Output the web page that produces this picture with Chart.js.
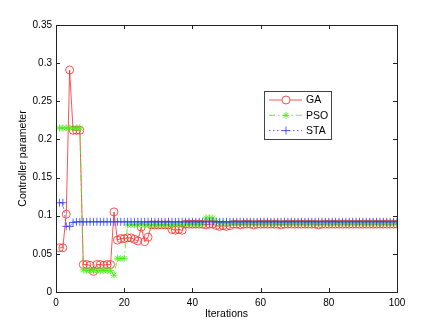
<!DOCTYPE html>
<html>
<head>
<meta charset="utf-8">
<script src="https://cdn.jsdelivr.net/npm/chart.js@4"></script>
<style>
  body { margin: 0; background: #fff; }
</style>
</head>
<body>
<canvas id="mycanvas" width="436" height="327"></canvas>
<script>
// values, iterations 1..100
var GA = [
  0.058, 0.058, 0.102, 0.291, 0.212, 0.212, 0.212, 0.036, 0.036, 0.035,
  0.027, 0.036, 0.036, 0.035, 0.036, 0.036, 0.105, 0.068, 0.070, 0.070,
  0.071, 0.071, 0.069, 0.067, 0.085, 0.066, 0.072, 0.088, 0.088, 0.088,
  0.088, 0.088, 0.088, 0.082, 0.081, 0.082, 0.081, 0.089, 0.089, 0.089,
  0.089, 0.089, 0.089, 0.088, 0.089, 0.089, 0.087, 0.086, 0.087, 0.086,
  0.087, 0.089, 0.089, 0.088, 0.089, 0.089, 0.089, 0.088, 0.089, 0.089,
  0.089, 0.089, 0.089, 0.089, 0.089, 0.088, 0.089, 0.089, 0.089, 0.089,
  0.089, 0.089, 0.089, 0.089, 0.089, 0.089, 0.088, 0.089, 0.089, 0.089,
  0.089, 0.089, 0.089, 0.089, 0.089, 0.089, 0.089, 0.089, 0.089, 0.089,
  0.089, 0.089, 0.089, 0.089, 0.089, 0.089, 0.089, 0.089, 0.089, 0.089
];
var PSO = [
  0.215, 0.215, 0.215, 0.215, 0.215, 0.215, 0.215, 0.029, 0.028, 0.028,
  0.028, 0.028, 0.028, 0.028, 0.028, 0.028, 0.022, 0.044, 0.044, 0.044,
  0.088, 0.088, 0.088, 0.088, 0.088, 0.088, 0.088, 0.088, 0.088, 0.088,
  0.088, 0.088, 0.088, 0.088, 0.089, 0.089, 0.089, 0.089, 0.089, 0.089,
  0.089, 0.089, 0.089, 0.097, 0.097, 0.097, 0.092, 0.090, 0.090, 0.090,
  0.090, 0.090, 0.090, 0.090, 0.090, 0.090, 0.090, 0.090, 0.090, 0.090,
  0.090, 0.090, 0.090, 0.090, 0.090, 0.090, 0.090, 0.090, 0.090, 0.090,
  0.090, 0.090, 0.090, 0.090, 0.090, 0.090, 0.090, 0.090, 0.090, 0.090,
  0.090, 0.090, 0.090, 0.090, 0.090, 0.090, 0.090, 0.090, 0.090, 0.090,
  0.090, 0.090, 0.090, 0.090, 0.090, 0.090, 0.090, 0.090, 0.090, 0.090
];
var STA = [
  0.117, 0.117, 0.086, 0.086, 0.091, 0.092, 0.092, 0.092, 0.092, 0.092,
  0.092, 0.092, 0.092, 0.092, 0.092, 0.092, 0.092, 0.092, 0.092, 0.092,
  0.092, 0.092, 0.092, 0.092, 0.092, 0.092, 0.092, 0.092, 0.092, 0.092,
  0.092, 0.092, 0.092, 0.092, 0.092, 0.092, 0.092, 0.092, 0.092, 0.092,
  0.092, 0.092, 0.092, 0.092, 0.092, 0.092, 0.092, 0.092, 0.092, 0.092,
  0.092, 0.092, 0.092, 0.092, 0.092, 0.092, 0.092, 0.092, 0.092, 0.092,
  0.092, 0.092, 0.092, 0.092, 0.092, 0.092, 0.092, 0.092, 0.092, 0.092,
  0.092, 0.092, 0.092, 0.092, 0.092, 0.092, 0.092, 0.092, 0.092, 0.092,
  0.092, 0.092, 0.092, 0.092, 0.092, 0.092, 0.092, 0.092, 0.092, 0.092,
  0.092, 0.092, 0.092, 0.092, 0.092, 0.092, 0.092, 0.092, 0.092, 0.092
];
var xTicks = [0, 20, 40, 60, 80, 100];
var yTicks = [0, 0.05, 0.1, 0.15, 0.2, 0.25, 0.3, 0.35];

function toPoints(values) {
  var pts = [];
  for (var i in values) {
    pts.push({x: Number(i) + 1, y: values[i]});
  }
  return pts;
}

var series = [
  {label: 'GA', data: GA, color: 'rgb(255,40,40)', style: 'circle', radius: 4, dash: [], order: 3},
  {label: 'PSO', data: PSO, color: 'rgb(70,235,20)', style: 'star', radius: 3.5, dash: [6, 3, 1.5, 3], order: 2},
  {label: 'STA', data: STA, color: 'rgb(40,60,255)', style: 'cross', radius: 4, dash: [1.5, 2.5], order: 1}
];

var datasets = series.map(function(s) {
  return {
    label: s.label,
    data: toPoints(s.data),
    borderColor: s.color,
    backgroundColor: 'rgba(0,0,0,0)',
    borderWidth: 0.8,
    borderDash: s.dash,
    pointStyle: s.style,
    pointRadius: s.radius,
    pointBorderColor: s.color,
    pointBackgroundColor: 'rgba(0,0,0,0)',
    pointBorderWidth: 0.8,
    tension: 0,
    order: s.order
  };
});

var font = "'Liberation Sans', Arial, sans-serif";

var boxPlugin = {
  id: 'box',
  afterDatasetsDraw: function(chart) {
    var ctx = chart.ctx;
    var a = chart.chartArea;
    var xs = chart.scales.x, ys = chart.scales.y;
    ctx.save();
    ctx.strokeStyle = '#222';
    ctx.lineWidth = 1;
    ctx.setLineDash([]);
    ctx.strokeRect(Math.round(a.left) + 0.5, Math.round(a.top) + 0.5,
      Math.round(a.right - a.left), Math.round(a.bottom - a.top));
    var tl = 4;
    ctx.beginPath();
    xTicks.forEach(function(v) {
      var px = Math.round(xs.getPixelForValue(v)) + 0.5;
      ctx.moveTo(px, a.bottom); ctx.lineTo(px, a.bottom - tl);
      ctx.moveTo(px, a.top); ctx.lineTo(px, a.top + tl);
    });
    yTicks.forEach(function(v) {
      var py = Math.round(ys.getPixelForValue(v)) + 0.5;
      ctx.moveTo(a.left, py); ctx.lineTo(a.left + tl, py);
      ctx.moveTo(a.right, py); ctx.lineTo(a.right - tl, py);
    });
    ctx.stroke();

    // legend box inside the axes
    var lx = 264, ly = 91, lw = 67, lh = 48;
    ctx.fillStyle = '#fff';
    ctx.fillRect(lx, ly, lw, lh);
    ctx.strokeStyle = '#444';
    ctx.strokeRect(lx + 0.5, ly + 0.5, lw, lh);
    ctx.font = '10.5px ' + font;
    ctx.textBaseline = 'middle';
    series.forEach(function(s, k) {
      var yy = ly + 9 + k * 15.3;
      ctx.strokeStyle = s.color;
      ctx.lineWidth = 0.8;
      ctx.setLineDash(s.dash);
      ctx.beginPath();
      ctx.moveTo(269, yy); ctx.lineTo(302, yy);
      ctx.stroke();
      ctx.setLineDash([]);
      Chart.helpers.drawPoint(ctx, {
        pointStyle: s.style, radius: s.radius, rotation: 0, borderWidth: 0.8
      }, 286, yy);
      ctx.fillStyle = '#000';
      ctx.fillText(s.label, 306, yy + 0.5);
    });
    ctx.restore();
  }
};

var ctx = document.getElementById('mycanvas');
var chart = new Chart(ctx, {
  type: 'line',
  data: {datasets: datasets},
  options: {
    responsive: false,
    animation: false,
    devicePixelRatio: 1,
    layout: {padding: {top: 25, right: 39, left: 0, bottom: 0}},
    plugins: {legend: {display: false}, tooltip: {enabled: false}},
    scales: {
      x: {
        type: 'linear', min: 0, max: 100,
        afterFit: function(scale) { scale.height = 35; },
        afterBuildTicks: function(scale) { scale.ticks = xTicks.map(function(v) { return {value: v}; }); },
        grid: {display: false, drawTicks: false},
        border: {display: false},
        ticks: {color: '#000', padding: 5, font: {family: font, size: 10}, maxRotation: 0},
        title: {display: true, text: 'Iterations', color: '#000', font: {family: font, size: 10.5}, padding: {top: 0, bottom: 7}}
      },
      y: {
        type: 'linear', min: 0, max: 0.35,
        afterFit: function(scale) { scale.width = 56; },
        afterBuildTicks: function(scale) { scale.ticks = yTicks.map(function(v) { return {value: v}; }); },
        grid: {display: false, drawTicks: false},
        border: {display: false},
        ticks: {color: '#000', padding: 4, font: {family: font, size: 10},
          callback: function(v) { return String(+v.toFixed(2)); }},
        title: {display: true, text: 'Controller parameter', color: '#000', font: {family: font, size: 10.5}, padding: {top: 17, bottom: 0}}
      }
    }
  },
  plugins: [boxPlugin]
});
</script>
</body>
</html>
